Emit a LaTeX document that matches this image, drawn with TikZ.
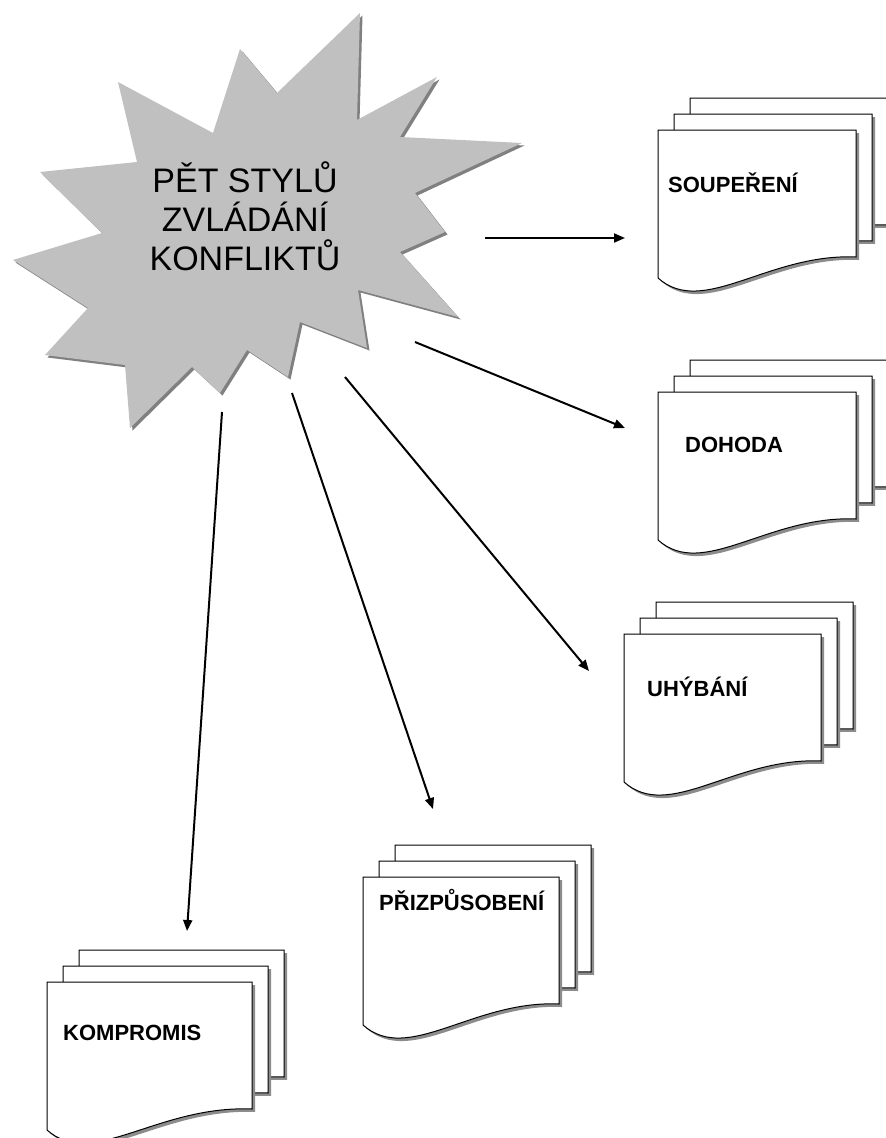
\documentclass[tikz,border=0pt]{standalone}
\usepackage{fontspec}
\setmainfont{Liberation Sans}
\usetikzlibrary{arrows.meta}
\definecolor{starfill}{HTML}{C0C0C0}
\definecolor{starshade}{HTML}{808080}
\definecolor{pageshade}{HTML}{8C8C8C}
\tikzset{
  titletext/.style={align=center, font=\fontsize{34}{39}\selectfont, inner sep=0pt},
  doclabel/.style={font=\fontsize{22}{22}\selectfont\bfseries, inner sep=0pt, anchor=west},
  docpage/.style={draw=black, line width=1pt, fill=white},
  docshadow/.style={fill=pageshade},
  arr/.style={line width=2pt, -{Triangle[length=11pt,width=9pt]}},
}
\newcommand\docstack[7]{%
  \foreach \k in {2,1,0} {
    \begin{scope}[shift={(#2+16*\k,#3-16*\k)}]
      \fill[docshadow] (3,3) -- (#7+3,3) -- (#7+3,130) .. controls (113,126) and (48,191) .. (3,151) -- cycle;
      \draw[docpage] (0,0) -- (#7,0) -- (#7,127) .. controls (110,123) and (45,188) .. (0,148) -- cycle;
    \end{scope}
  }
  \node[doclabel] (#1) at (#2+#5,#3+#6) {#4};
}
\begin{document}
\begin{tikzpicture}[x=1pt,y=-1pt]
\useasboundingbox[fill=white] (0,0) rectangle (886,1138);
% star shadow
\fill[starshade, shift={(2.5,2.5)}] (360,13) -- (357,120) -- (437,77) -- (400,137) -- (522,143) -- (415,193) -- (445,232) -- (400,252) -- (458,317) -- (358,290) -- (367,348) -- (300,322) -- (288,377) -- (247,350) -- (220,393) -- (192,367) -- (130,428) -- (125,365) -- (45,355) -- (88,308) -- (13,260) -- (102,233) -- (40,172) -- (137,162) -- (118,82) -- (213,133) -- (240,49) -- (277,93) -- cycle;
% star
\fill[starfill] (360,13) -- (357,120) -- (437,77) -- (400,137) -- (522,143) -- (415,193) -- (445,232) -- (400,252) -- (458,317) -- (358,290) -- (367,348) -- (300,322) -- (288,377) -- (247,350) -- (220,393) -- (192,367) -- (130,428) -- (125,365) -- (45,355) -- (88,308) -- (13,260) -- (102,233) -- (40,172) -- (137,162) -- (118,82) -- (213,133) -- (240,49) -- (277,93) -- cycle;
\node[titletext] (title) at (245,216) {PĚT STYLŮ\\ZVLÁDÁNÍ\\KONFLIKTŮ};

% document stacks
\docstack{soup}{658}{130}{SOUPEŘENÍ}{10}{53}{198}
\docstack{doho}{658}{392}{DOHODA}{27}{53}{198}
\docstack{uhyb}{624}{634}{UHÝBÁNÍ}{23}{53}{197}
\docstack{priz}{363}{877}{PŘIZPŮSOBENÍ}{16}{23}{196}
\docstack{komp}{47}{982}{KOMPROMIS}{16}{51}{205}

% connector ends
\coordinate (s1) at (485,238); \coordinate (e1) at (625,238);
\coordinate (s2) at (415,342); \coordinate (e2) at (625,428);
\coordinate (s3) at (345,377); \coordinate (e3) at (589,671);
\coordinate (s4) at (292,393); \coordinate (e4) at (433,809);
\coordinate (s5) at (222,412); \coordinate (e5) at (187,931);
\draw[arr] (s1) -- (e1);
\draw[arr] (s2) -- (e2);
\draw[arr] (s3) -- (e3);
\draw[arr] (s4) -- (e4);
\draw[arr] (s5) -- (e5);
\end{tikzpicture}
\end{document}
